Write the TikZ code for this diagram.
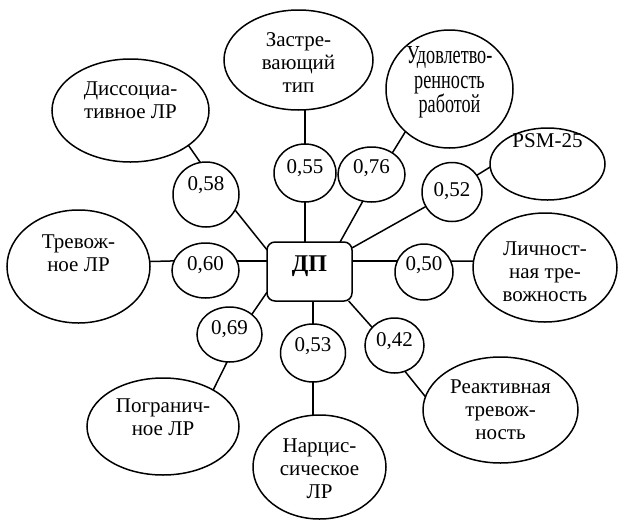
\documentclass[tikz,border=0pt]{standalone}
\usepackage{fontspec}
\setmainfont{Liberation Serif}
\newfontfamily\condfont[FakeStretch=0.7]{Liberation Serif}
\usetikzlibrary{shapes.geometric}
\begin{document}
\begin{tikzpicture}[x=1pt,y=-1pt,
  every node/.style={inner sep=0pt, outer sep=0pt},
  ell/.style={draw, ellipse, line width=1.5pt},
  txt/.style={font=\fontsize{21}{23}\selectfont, align=center},
  condtxt/.style={font=\condfont\fontsize{26}{24.5}\selectfont, align=center},
  boxtxt/.style={font=\fontsize{24}{24}\selectfont\bfseries},
  conn/.style={line width=1.5pt}]
\useasboundingbox (0,0) rectangle (619,520);

% central box
\node[draw, rounded corners=8pt, line width=1.5pt, minimum width=85, minimum height=59,
  label={[boxtxt,yshift=5.5pt]center:ДП}] (dp) at (309.5,271.5) {};

% outer ellipses
\node[ell, minimum width=157, minimum height=103,
  label={[txt,yshift=10pt]center:Диссоциа-\\тивное ЛР}] (ds) at (130.5,110.5) {};
\node[ell, minimum width=149, minimum height=100,
  label={[txt,yshift=-2.5pt]center:Застре-\\вающий\\тип}] (zs) at (298.5,60) {};
\node[ell, minimum width=127, minimum height=118,
  label={[condtxt,yshift=6.5pt]center:Удовлетво-\\ренность\\работой}] (ud) at (449.5,89) {};
\node[ell, minimum width=115, minimum height=72,
  label={[txt,yshift=23pt]center:PSM-25}] (psm) at (547.5,164) {};
\node[ell, minimum width=143, minimum height=113,
  label={[txt,yshift=13.5pt]center:Тревож-\\ное ЛР}] (tr) at (78.5,266.5) {};
\node[ell, minimum width=144, minimum height=109,
  label={[txt,yshift=-4pt]center:Личност-\\ная тре-\\вожность}] (li) at (545,267.5) {};
\node[ell, minimum width=152, minimum height=97,
  label={[txt,yshift=9pt]center:Погранич-\\ное ЛР}] (pg) at (163,426.5) {};
\node[ell, minimum width=133, minimum height=104,
  label={[txt,yshift=-2pt]center:Нарцис-\\сическое\\ЛР}] (na) at (319.5,467) {};
\node[ell, minimum width=155, minimum height=106,
  label={[txt,yshift=0pt]center:Реактивная\\тревож-\\ность}] (re) at (500.5,410) {};

% coefficient circles
\node[ell, minimum width=66, minimum height=65,
  label={[txt,yshift=9.5pt]center:0,58}] (c58) at (206,194.5) {};
\node[ell, minimum width=62, minimum height=58,
  label={[txt,yshift=5pt]center:0,55}] (c55) at (305,173) {};
\node[ell, minimum width=67, minimum height=55,
  label={[txt,yshift=6pt]center:0,76}] (c76) at (371.5,174.5) {};
\node[ell, minimum width=60, minimum height=59,
  label={[txt,yshift=0.5pt]center:0,52}] (c52) at (452,192) {};
\node[ell, minimum width=67, minimum height=55,
  label={[txt,yshift=5pt]center:0,60}] (c60) at (205.5,270.5) {};
\node[ell, minimum width=58, minimum height=56,
  label={[txt,yshift=6.5pt]center:0,50}] (c50) at (424,272) {};
\node[ell, minimum width=65, minimum height=55,
  label={[txt,yshift=5.5pt]center:0,69}] (c69) at (229.5,334.5) {};
\node[ell, minimum width=65, minimum height=58,
  label={[txt,yshift=6.5pt]center:0,53}] (c53) at (313,353) {};
\node[ell, minimum width=59, minimum height=55,
  label={[txt,yshift=4.5pt]center:0,42}] (c42) at (394.5,345.5) {};

% connectors
\draw[conn] (ds.-31) -- (c58.100);
\draw[conn] (c58.-28) -- (dp.153);
\draw[conn] (c55.north |- zs.south) -- (c55.north);
\draw[conn] (c55.south) -- (c55.south |- dp.north);
\draw[conn] (ud.224) -- (c76.46);
\draw[conn] (c76.252) -- (dp.44);
\draw[conn] (psm.183) -- (c52.34);
\draw[conn] (c52.209) -- (dp.29);
\draw[conn] (tr.4) -- (c60.163);
\draw[conn] (c60.17) -- (c60.17 -| dp.west);
\draw[conn] (c50.158 -| dp.east) -- (c50.158);
\draw[conn] (c50.22) -- (li.175);
\draw[conn] (dp.206) -- (c69.42);
\draw[conn] (c69.265) -- (pg.36);
\draw[conn] (c53.north |- dp.south) -- (c53.north);
\draw[conn] (c53.south) -- (c53.south |- na.north);
\draw[conn] (dp.-37) -- (c42.141);
\draw[conn] (c42.-68) -- (re.170);
\end{tikzpicture}
\end{document}
